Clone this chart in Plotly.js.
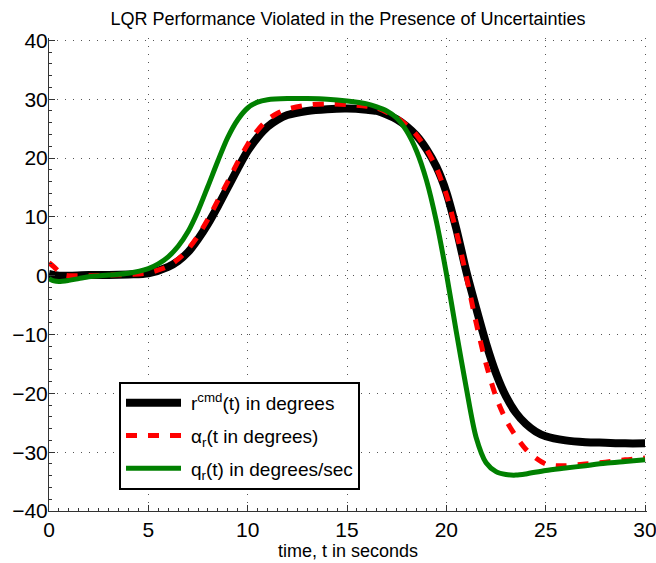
<!DOCTYPE html>
<html>
<head>
<meta charset="utf-8">
<script src="https://cdn.plot.ly/plotly-3.0.1.min.js"></script>
<style>html,body{margin:0;padding:0;background:#fff;}#chart{width:656px;height:563px;}</style>
</head>
<body>
<div id="chart"></div>
<script>
// time samples (seconds)
const tRcmd = [0,0.5,1,2,3,4,5,6,6.5,7,7.5,8,8.5,9,9.5,10,10.5,11,11.5,12,13,14,15,16,16.5,17,17.5,18,18.5,19,19.5,20,20.5,21,21.5,22,22.5,23,23.5,24,24.5,25,26,27,28,29,30];
const rCmd = [0.3,0,0,0.1,0.1,0.2,0.4,1.5,2.5,4.0,6.2,8.8,11.8,15.0,18.2,21.2,23.5,25.3,26.5,27.3,28.0,28.3,28.4,28.2,28.0,27.4,26.6,25.4,23.8,21.5,18.5,14.2,8.0,0.8,-5.5,-11.5,-16.6,-20.5,-23.3,-25.2,-26.5,-27.3,-28.0,-28.3,-28.4,-28.5,-28.5];

const tAlpha = [0,0.25,0.5,0.8,1,2,3,4,5,6,6.5,7,7.5,8,8.5,9,9.5,10,10.5,11,11.5,12,13,14,15,16,16.5,17,17.5,18,18.5,19,19.5,20,20.5,21,21.5,22,22.5,23,23.5,24,24.5,25,25.5,26,27,28,29,30];
const alphaR = [2.2,1.5,0.7,0.1,0,0,0.1,0.2,0.5,1.6,2.8,4.5,6.8,9.6,12.8,16.0,19.3,22.3,24.7,26.5,27.6,28.3,29.0,29.2,29.1,28.8,28.5,27.8,26.9,25.6,23.9,21.5,18.3,13.8,7.5,0.0,-8.0,-15.0,-20.6,-24.5,-27.3,-29.5,-31.0,-32.0,-32.3,-32.3,-32.0,-31.7,-31.3,-31.0];

const tQ = [0,0.25,0.5,1,1.5,2,3,4,5,5.5,6,6.5,7,7.5,8,8.5,9,9.5,10,10.5,11,12,13,14,15,16,16.5,17,17.5,18,18.5,19,19.5,20,20.5,21,21.5,22,22.5,23,23.5,24,25,26,27,28,29,30];
const qR = [-0.5,-0.9,-1.0,-0.8,-0.5,-0.2,0.1,0.4,1.2,2.0,3.2,5.0,7.5,11.0,15.2,19.5,23.5,26.5,28.5,29.5,29.9,30.1,30.1,30.0,29.7,29.2,28.7,28.0,26.8,24.6,21.2,16.2,9.2,0.4,-9.5,-19.0,-27.5,-31.8,-33.3,-33.8,-33.9,-33.7,-33.1,-32.7,-32.3,-31.9,-31.6,-31.3];

const seriesNames = ['r<sup>cmd</sup>(t) in degrees','α<sub>r</sub>(t in degrees)','q<sub>r</sub>(t) in degrees/sec'];
const xTicks = [0,5,10,15,20,25,30];
const yTicks = [-40,-30,-20,-10,0,10,20,30,40];

const FONT = 'Liberation Sans, Arial, Helvetica, sans-serif';

const traces = [
  {x:tRcmd, y:rCmd, name:seriesNames[0], legendgroup:'a', mode:'lines', line:{color:'#000000', width:8, shape:'spline', smoothing:0.8}},
  {x:tAlpha, y:alphaR, name:seriesNames[1], legendgroup:'b', mode:'lines', line:{color:'#ff0000', width:5, dash:'11px,11px', shape:'spline', smoothing:0.8}},
  {x:tQ, y:qR, name:seriesNames[2], legendgroup:'c', mode:'lines', line:{color:'#008000', width:5, shape:'spline', smoothing:0.8}}
];

const axisCommon = {
  showline:true, linecolor:'#333', linewidth:1, mirror:false,
  ticks:'inside', ticklen:6, tickcolor:'#333', tickwidth:1,
  showgrid:true, gridcolor:'#555', gridwidth:1, griddash:'1px,7px',
  zeroline:false, ticklabeloverflow:'allow',
  tickfont:{family:FONT, size:21, color:'#000'}
};

const layout = {
  width:656, height:563,
  margin:{l:49, r:9, t:38, b:52, pad:0},
  paper_bgcolor:'#fff', plot_bgcolor:'#fff',
  title:{text:'LQR Performance Violated in the Presence of Uncertainties', font:{family:FONT, size:18, color:'#000'}, x:0.5, xref:'paper', y:1-19/563, yref:'container', yanchor:'middle'},
  xaxis:Object.assign({}, axisCommon, {range:[0,30.1], tickvals:xTicks, ticktext:xTicks.map(String),
    minor:{dtick:0.5, ticks:'inside', ticklen:3, tickcolor:'#333', showgrid:false},
    title:{text:'time, t in seconds', font:{family:FONT, size:18, color:'#000'}, standoff:2}}),
  yaxis:Object.assign({}, axisCommon, {range:[-40,40.4], tickvals:yTicks, ticktext:yTicks.map(v=> v<0 ? '\u2212'+Math.abs(v) : String(v)),
    ticklabelstandoff:-4,
    minor:{dtick:2, ticks:'inside', ticklen:3, tickcolor:'#333', showgrid:false}}),
  showlegend:true,
  legend:{x:(119-49)/598, y:(511-382)/473, xanchor:'left', yanchor:'top', bgcolor:'#fff', bordercolor:'#000', borderwidth:2,
    font:{family:FONT, size:19, color:'#000'}, itemwidth:60, tracegroupgap:5}
};

Plotly.newPlot('chart', traces, layout, {displayModeBar:false, staticPlot:true}).then(function(gd){
  gd.querySelectorAll('.legend .legendlines path').forEach(function(p){ p.setAttribute('d','M5,0h55'); });
});
</script>
</body>
</html>
